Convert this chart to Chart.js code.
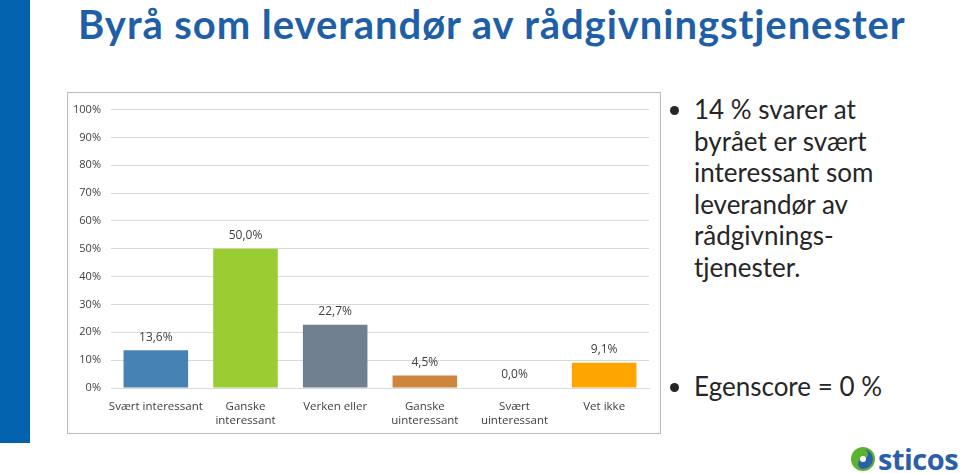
<!DOCTYPE html>
<html>
<head>
<meta charset="utf-8">
<script src="https://cdn.jsdelivr.net/npm/chart.js@4"></script>
<style>
  body { margin: 0; width: 960px; height: 473px; background: #fff; position: relative; overflow: hidden; font-family: Lato, "Open Sans", sans-serif; }
  #side { position: absolute; left: 0; top: 0; width: 30px; height: 443px; background: #0262ad; }
  #title { position: absolute; left: 78px; top: 0px; font-family: Lato, sans-serif; font-weight: bold; font-size: 40px; color: #1f5fa8; white-space: nowrap; letter-spacing: 0.93px; }
  #box { position: absolute; left: 67px; top: 92px; width: 592px; height: 340px; border: 1px solid #bcbcbc; }
  #notes { position: absolute; left: 672px; top: 94px; font-size: 26px; line-height: 31.6px; color: #262626; }
  #notes ul { margin: 0; padding-left: 22px; }
  #notes li { margin: 0; }
  #logo { position: absolute; left: 850px; top: 445px; display: flex; align-items: center; }
  #logo span { font-family: "Open Sans", sans-serif; font-weight: bold; font-size: 29px; color: #2b5fa9; margin-left: 2px; line-height: 28px; letter-spacing: -0.5px; }
</style>
</head>
<body>
<div id="side"></div>
<div id="title">Byrå som leverandør av rådgivningstjenester</div>
<div id="box"><canvas id="chart" width="592" height="340"></canvas></div>
<div id="notes">
  <ul>
    <li style="height:190px">14 % svarer at<br>byrået er svært<br>interessant som<br>leverandør av<br>rådgivnings-<br>tjenester.</li>
    <li style="margin-top:87px">Egenscore = 0 %</li>
  </ul>
</div>
<div id="logo">
  <svg width="26" height="26" viewBox="0 0 26 26">
    <circle cx="13" cy="13" r="12" fill="#5bb431"/>
    <path d="M13 3 A10 10 0 0 1 13 23 A5 5 0 0 1 13 13 A5 5 0 0 0 13 3 Z" fill="#2b5fa9"/>
    <circle cx="13" cy="13" r="3" fill="#fff"/>
  </svg>
  <span>sticos</span>
</div>
<script>
const categories = [
  'Svært interessant',
  ['Ganske', 'interessant'],
  'Verken eller',
  ['Ganske', 'uinteressant'],
  ['Svært', 'uinteressant'],
  'Vet ikke'
];
const shares = [13.6, 50.0, 22.7, 4.5, 0.0, 9.1];
const barColors = ['#4682b4', '#9acd32', '#708090', '#cd853f', '#708090', '#ffa500'];
const yTicks = [0, 10, 20, 30, 40, 50, 60, 70, 80, 90, 100];

const valueLabels = {
  id: 'valueLabels',
  afterDatasetsDraw(chart) {
    const ctx = chart.ctx;
    const meta = chart.getDatasetMeta(0);
    ctx.save();
    ctx.font = '12px "Open Sans", sans-serif';
    ctx.fillStyle = '#404040';
    ctx.textAlign = 'center';
    ctx.textBaseline = 'bottom';
    meta.data.forEach((bar, i) => {
      const txt = shares[i].toFixed(1).replace('.', ',') + '%';
      ctx.fillText(txt, bar.x, bar.y - 7);
    });
    ctx.restore();
  }
};

new Chart(document.getElementById('chart'), {
  type: 'bar',
  data: {
    labels: categories,
    datasets: [{ data: shares, backgroundColor: barColors, barPercentage: 0.72, categoryPercentage: 1 }]
  },
  options: {
    responsive: false,
    animation: false,
    layout: { padding: { top: 11, right: 11, left: 0, bottom: 0 } },
    plugins: { legend: { display: false }, tooltip: { enabled: false } },
    scales: {
      x: {
        grid: { display: false },
        border: { color: '#d9d9d9' },
        ticks: { color: '#404040', font: { family: '"Open Sans", sans-serif', size: 11.5 }, maxRotation: 0, autoSkip: false, padding: 4 },
        afterFit(s) { s.height = 45; }
      },
      y: {
        min: 0, max: 100,
        afterBuildTicks(s) { s.ticks = yTicks.map(v => ({ value: v })); },
        grid: { color: '#d9d9d9', drawTicks: false },
        border: { display: false },
        ticks: { color: '#404040', font: { family: '"Open Sans", sans-serif', size: 11 }, padding: 10, callback: v => v + '%' },
        afterFit(s) { s.width = 43; }
      }
    }
  },
  plugins: [valueLabels]
});
</script>
</body>
</html>
